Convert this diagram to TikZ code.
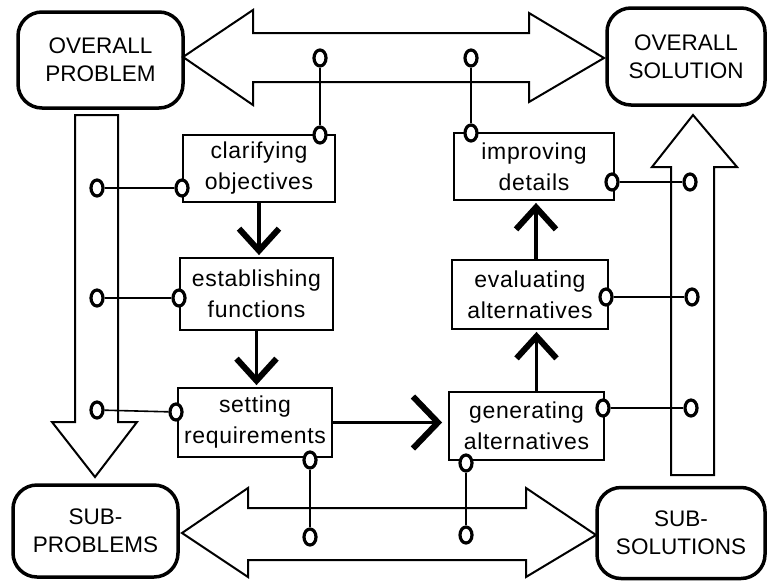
\documentclass[tikz,border=0pt]{standalone}
\usepackage{fontspec}
\setmainfont{Liberation Sans}
\newfontfamily\taskfont[LetterSpace=3]{Liberation Sans}
\usetikzlibrary{arrows.meta,shapes.geometric}
\begin{document}
\begin{tikzpicture}[x=1pt,y=1pt,
	stagebox/.style={draw,line width=3.5pt,rounded corners=24pt,align=center,inner sep=0pt,font=\fontsize{22.5}{28}\selectfont},
	taskbox/.style={draw,line width=1.8pt,align=center,inner sep=0pt,font=\taskfont\fontsize{23}{31}\selectfont},
	blockarrow/.style={draw,line width=2pt,line join=miter},
	pin/.style={draw,ellipse,line width=3.2pt,minimum width=12pt,minimum height=16pt,inner sep=0pt,fill=white},
	link/.style={line width=1.6pt},
	flow/.style={line width=3.5pt,-{Straight Barb[length=22pt,width=40pt,line width=6pt]}}]
	\useasboundingbox (0,0) rectangle (768,-581);
	\draw[blockarrow] (183,-57) -- (253,-10) -- (253,-33) -- (529,-33) -- (529,-13) -- (604,-58) -- (529,-102) -- (529,-82) -- (253,-82) -- (253,-105) -- cycle;
	\draw[blockarrow] (182,-533) -- (248,-488) -- (248,-508) -- (526,-508) -- (526,-488) -- (596,-535) -- (526,-577) -- (526,-560) -- (248,-560) -- (248,-577) -- cycle;
	\draw[blockarrow] (75,-115) -- (118,-115) -- (118,-422) -- (137,-422) -- (95,-477) -- (52,-422) -- (75,-422) -- cycle;
	\draw[blockarrow] (671,-475) -- (714,-475) -- (714,-167) -- (737,-167) -- (693,-115) -- (652,-167) -- (671,-167) -- cycle;
	\node[stagebox,minimum width=165pt,minimum height=96pt] (oprob) at (100.5,-60) {OVERALL\\PROBLEM};
	\node[stagebox,minimum width=158pt,minimum height=97pt] (osol) at (686,-56.5) {OVERALL\\SOLUTION};
	\node[stagebox,minimum width=165pt,minimum height=92pt] (sprob) at (95.5,-531) {SUB-\\PROBLEMS};
	\node[stagebox,minimum width=168pt,minimum height=91pt] (ssol) at (681,-533) {SUB-\\SOLUTIONS};
	\node[taskbox,minimum width=152pt,minimum height=67pt] (clar) at (259,-168.5) {clarifying\\objectives};
	\node[taskbox,minimum width=153pt,minimum height=72pt] (est) at (256.5,-294) {establishing\\functions};
	\node[taskbox,minimum width=154pt,minimum height=69pt] (set) at (255,-422.5) {setting\\requirements};
	\node[taskbox,minimum width=155pt,minimum height=68pt] (gen) at (526.5,-426) {generating\\alternatives};
	\node[taskbox,minimum width=156pt,minimum height=69pt] (eval) at (530,-294.5) {evaluating\\alternatives};
	\node[taskbox,minimum width=160pt,minimum height=67pt] (imp) at (534,-166.5) {improving\\details};
	\draw[flow,shorten >=2pt] (clar.south) -- (clar.south |- est.north);
	\draw[flow,shorten >=2pt] (est.south) -- (est.south |- set.north);
	\draw[flow,shorten >=6pt,-{Straight Barb[length=25pt,width=52pt,line width=6pt]}] (set.east) -- (set.east -| gen.west);
	\draw[flow,shorten >=2pt] ([xshift=10pt]gen.north) -- ([xshift=10pt]gen.north |- eval.south);
	\draw[flow,shorten >=2pt] ([xshift=6pt]eval.north) -- ([xshift=6pt]eval.north |- imp.south);
	\node[pin] (topl) at (320,-58) {};
	\node[pin] (topr) at (471,-58) {};
	\node[pin] (clartop) at (320,-135) {};
	\node[pin] (imptop) at (471,-133) {};
	\node[pin] (clarin) at (182,-188) {};
	\node[pin] (estin) at (179,-298) {};
	\node[pin] (setin) at (176,-412) {};
	\node[pin] (downa) at (97,-188) {};
	\node[pin] (downb) at (97,-298) {};
	\node[pin] (downc) at (97,-410) {};
	\node[pin] (setout) at (310,-460) {};
	\node[pin] (botl) at (310,-537) {};
	\node[pin] (genout) at (466,-463) {};
	\node[pin] (botr) at (466,-535) {};
	\node[pin] (genin) at (603,-408) {};
	\node[pin] (evalin) at (606,-297) {};
	\node[pin] (impin) at (612,-182) {};
	\node[pin] (upa) at (691,-408) {};
	\node[pin] (upb) at (692,-297) {};
	\node[pin] (upc) at (690,-182) {};
	\draw[link] (topl) -- (clartop);
	\draw[link] (topr) -- (imptop);
	\draw[link] (downa) -- (clarin);
	\draw[link] (downb) -- (estin);
	\draw[link] (downc) -- (setin);
	\draw[link] (setout) -- (botl);
	\draw[link] (genout) -- (botr);
	\draw[link] (genin) -- (upa);
	\draw[link] (evalin) -- (upb);
	\draw[link] (impin) -- (upc);
\end{tikzpicture}
\end{document}
